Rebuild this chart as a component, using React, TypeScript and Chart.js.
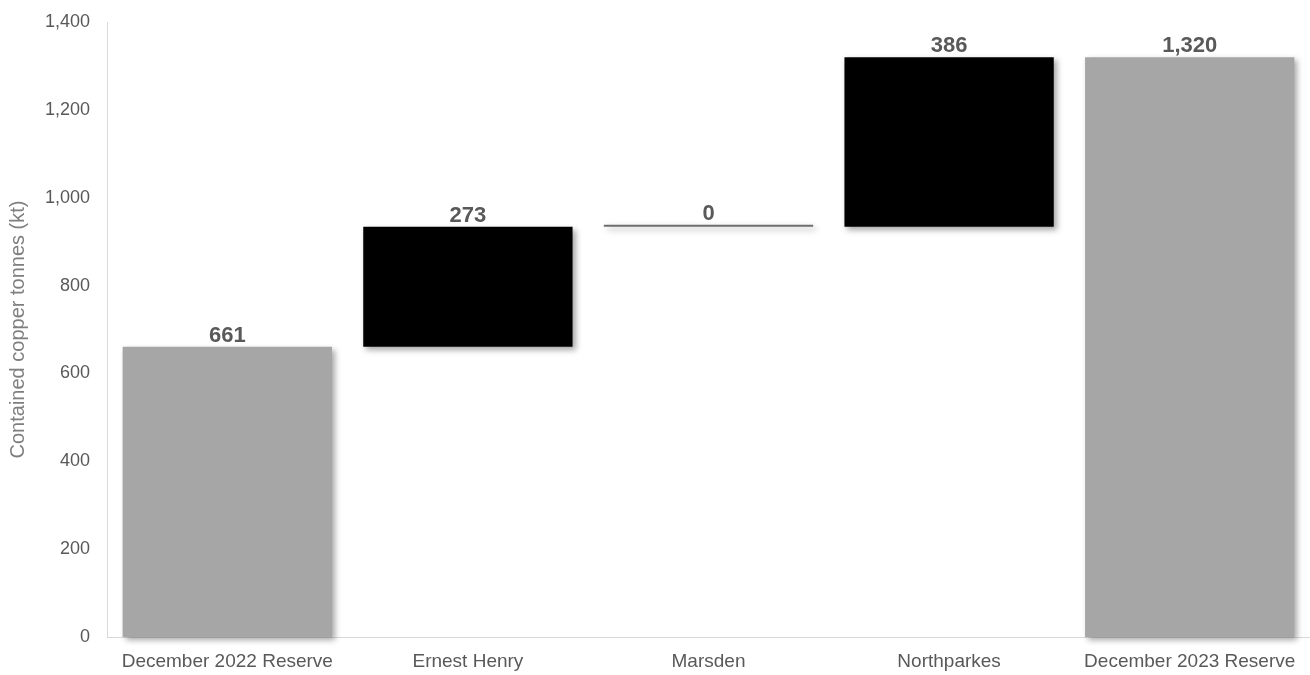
import React, { useEffect, useRef } from "react";
import { Chart, registerables } from "chart.js";

Chart.register(...registerables);

// Waterfall of contained copper reserves (kt)
const categories = [
  "December 2022 Reserve",
  "Ernest Henry",
  "Marsden",
  "Northparkes",
  "December 2023 Reserve",
];
const openingReserve = 661;
const siteChanges = [273, 0, 386]; // Ernest Henry, Marsden, Northparkes
const closingReserve = 1320;
const yTicks = [0, 200, 400, 600, 800, 1000, 1200, 1400];

const FONT = "'Liberation Sans', Arial, sans-serif";
const TOTAL_COLOR = "#a6a6a6";
const DELTA_COLOR = "#000000";
const ZERO_COLOR = "#6e6e6e";

function buildRanges() {
  const ranges: [number, number][] = [[0, openingReserve]];
  const labels: number[] = [openingReserve];
  let running = openingReserve;
  for (const c of siteChanges) {
    ranges.push([running, running + c]);
    labels.push(c);
    running += c;
  }
  ranges.push([0, closingReserve]);
  labels.push(closingReserve);
  return { ranges, labels };
}

const shadowAndLabels = {
  id: "shadowAndLabels",
  beforeDatasetsDraw(chart: any) {
    const ctx = chart.ctx;
    ctx.save();
    ctx.shadowColor = "rgba(0,0,0,0.35)";
    ctx.shadowBlur = 6;
    ctx.shadowOffsetX = 3;
    ctx.shadowOffsetY = 3;
  },
  afterDatasetsDraw(chart: any) {
    const ctx = chart.ctx;
    ctx.restore();
    const meta = chart.getDatasetMeta(0);
    const values: number[] = chart.data.datasets[0].valueLabels;
    ctx.save();
    ctx.font = `bold 22px ${FONT}`;
    ctx.fillStyle = "#595959";
    ctx.textAlign = "center";
    ctx.textBaseline = "alphabetic";
    meta.data.forEach((el: any, i: number) => {
      const top = Math.min(el.y, el.base);
      ctx.fillText(values[i].toLocaleString("en-US"), el.x, top - 5);
    });
    ctx.restore();
  },
};

export default function App() {
  const canvasRef = useRef<HTMLCanvasElement | null>(null);

  useEffect(() => {
    if (!canvasRef.current) return;
    const { ranges, labels } = buildRanges();
    const colors = ranges.map((r, i) => {
      if (i === 0 || i === ranges.length - 1) return TOTAL_COLOR;
      return r[1] === r[0] ? ZERO_COLOR : DELTA_COLOR;
    });
    const chart = new Chart(canvasRef.current, {
      type: "bar",
      data: {
        labels: categories,
        datasets: [
          {
            data: ranges as any,
            valueLabels: labels,
            backgroundColor: colors,
            borderWidth: 0,
            minBarLength: 2,
            categoryPercentage: 1,
            barPercentage: 0.87,
            clip: false,
          } as any,
        ],
      },
      options: {
        animation: false,
        responsive: false,
        maintainAspectRatio: false,
        layout: { padding: { top: 22, right: 0, bottom: 2, left: 0 } },
        plugins: {
          legend: { display: false },
          tooltip: { enabled: false },
        },
        scales: {
          x: {
            afterFit(scale: any) {
              scale.height = 36;
            },
            grid: { display: false, drawTicks: false },
            border: { display: true, color: "#d9d9d9", width: 1 },
            ticks: {
              color: "#595959",
              font: { family: FONT, size: 19 },
              padding: 13,
              maxRotation: 0,
              autoSkip: false,
            },
          },
          y: {
            min: 0,
            max: 1400,
            afterFit(scale: any) {
              scale.width = 107;
              scale.paddingTop = 0;
            },
            afterBuildTicks(scale: any) {
              scale.ticks = yTicks.map((v) => ({ value: v }));
            },
            grid: { display: false, drawTicks: false },
            border: { display: true, color: "#d9d9d9", width: 1 },
            ticks: {
              color: "#595959",
              font: { family: FONT, size: 18 },
              padding: 17,
              callback: (v: any) => Number(v).toLocaleString("en-US"),
            },
            title: {
              display: true,
              text: "Contained copper tonnes (kt)",
              color: "#7f7f7f",
              font: { family: FONT, size: 20 },
              padding: { top: 6, bottom: 0 },
            },
          },
        },
      },
      plugins: [shadowAndLabels],
    });
    return () => chart.destroy();
  }, []);

  return (
    <div style={{ position: "fixed", left: 0, top: 0, width: 1310, height: 675, background: "#fff" }}>
      <canvas ref={canvasRef} width={1310} height={675} style={{ width: 1310, height: 675, display: "block" }} />
    </div>
  );
}
